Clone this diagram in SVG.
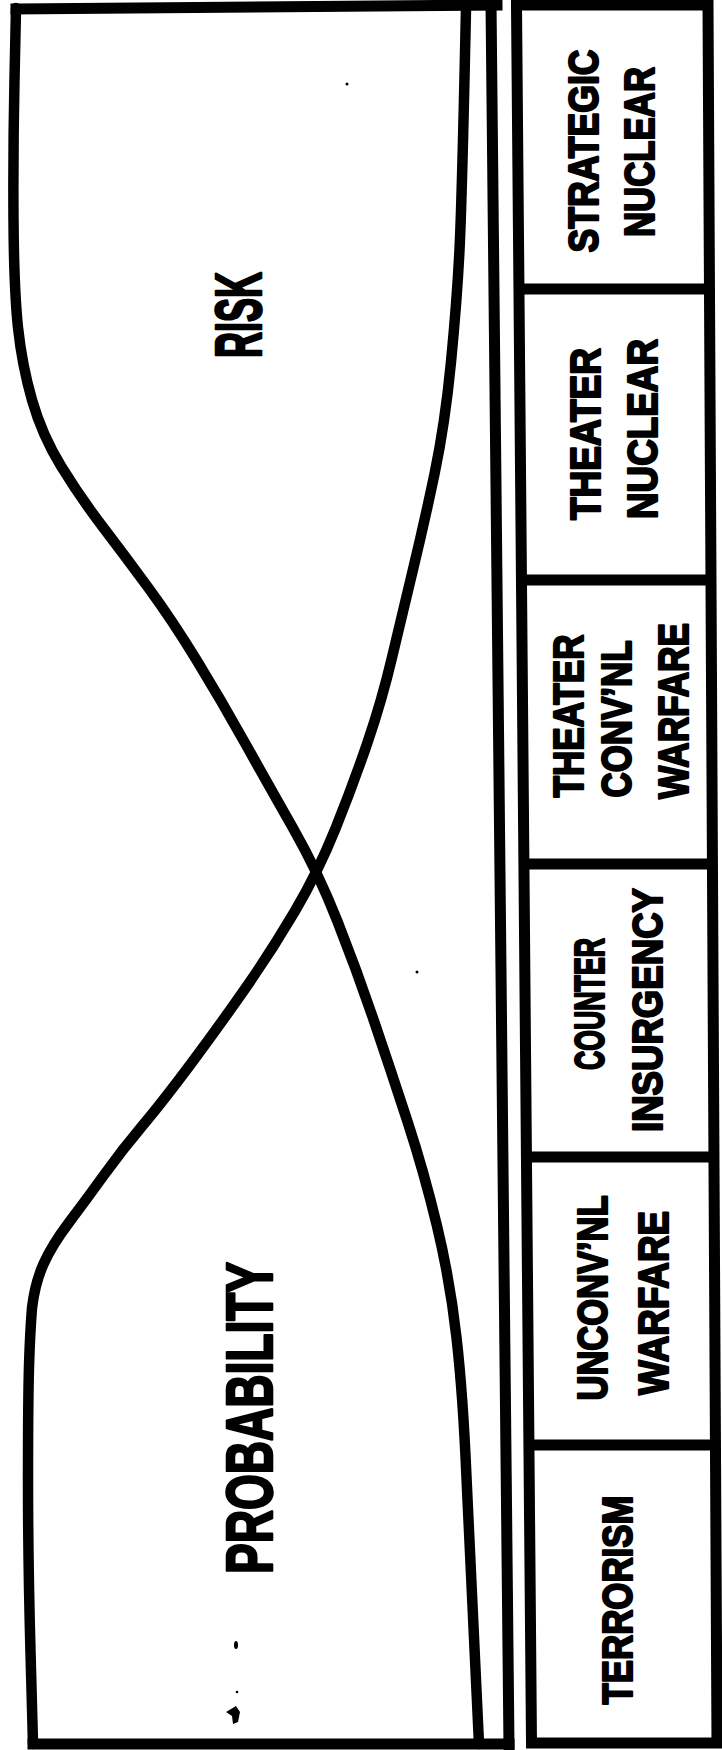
<svg xmlns="http://www.w3.org/2000/svg" width="722" height="1750" viewBox="0 0 722 1750">
<style>
.ln{fill:none;stroke:#000;stroke-width:11;stroke-linecap:square;stroke-linejoin:miter}
.dv{fill:none;stroke:#000;stroke-width:11}
.cv{fill:none;stroke:#000;stroke-width:10.5;stroke-linecap:round;stroke-linejoin:round}
.lbl{font-family:"Liberation Sans Narrow","Liberation Sans",Arial,sans-serif;font-weight:bold;fill:#000;stroke:#000;stroke-linejoin:round}
.big{font-size:64px;stroke-width:2.6}
.cat{font-size:43px;stroke-width:2.2}
.spk{fill:#000}
</style>
<rect x="0" y="0" width="722" height="1750" fill="#fff"/>

<g id="chart-frame">
  <path class="ln" d="M16,9 L497,5"/>
  <path class="ln" d="M491,2 L509,1747"/>
  <path class="ln" d="M33,1744 L509,1744"/>
</g>

<g id="curves">
  <path id="risk-curve" class="cv" d="M16,8 L14.5,79 Q13,150 13.5,220 Q14,290 18,327.5 Q22,365 32,400 Q42,435 61,466 Q80,497 102.5,526.5 Q125,556 148.5,588 Q172,620 196.5,660 Q221,700 245,743 Q269,786 293.5,829 Q318,872 337.5,921.5 Q357,971 374,1021 Q391,1071 407.5,1121.5 Q424,1172 437,1226 Q450,1280 456.5,1337.5 Q463,1395 466.5,1477.5 Q470,1560 479,1744"/>
  <path id="probability-curve" class="cv" d="M33,1744 L30.5,1652 Q28,1560 28,1480 Q28,1400 29,1366.5 Q30,1333 32,1308 Q35,1283 43.5,1264 Q52,1245 69,1222.5 Q86,1200 104,1175 Q122,1150 143,1125 Q164,1100 193,1061 Q222,1022 247,986 Q272,950 295,911 Q318,872 335.5,828.5 Q353,785 367.5,742.5 Q382,700 392,657.5 Q402,615 413,569.5 Q424,524 434.5,474 Q445,424 451,362 Q457,300 459.5,250 Q462,200 466,8"/>
</g>

<g id="label-risk">
  <text class="lbl big" transform="translate(261,315) rotate(-90)" x="-43" y="0" textLength="86" lengthAdjust="spacingAndGlyphs">RISK</text>
</g>
<g id="label-probability">
  <text class="lbl big" transform="translate(272,1418) rotate(-90)" x="-156" y="0" textLength="312" lengthAdjust="spacingAndGlyphs">PROBABILITY</text>
</g>

<g id="specks">
  <circle class="spk" cx="347" cy="84" r="1.5"/>
  <circle class="spk" cx="417" cy="972" r="1.5"/>
  <ellipse class="spk" cx="236" cy="1645" rx="2" ry="4"/>
  <circle class="spk" cx="237" cy="1692" r="1.3"/>
  <path class="spk" d="M226,1712 L236,1706 L240,1712 L238,1722 L233,1724 L232,1716 Z"/>
</g>

<g id="category-panel">
  <path class="ln" d="M516.5,5 L708,5 L717,1743 L531.5,1743 Z"/>
  <line class="dv" x1="519" y1="289" x2="709.5" y2="289"/>
  <line class="dv" x1="521.5" y1="580" x2="711" y2="580"/>
  <line class="dv" x1="523.9" y1="864" x2="712.4" y2="864"/>
  <line class="dv" x1="526.4" y1="1157" x2="714" y2="1157"/>
  <line class="dv" x1="528.9" y1="1445" x2="715.5" y2="1445"/>
</g>

<g id="cat-strategic-nuclear">
  <text class="lbl cat" transform="translate(598,151) rotate(-90)" x="-101.5" textLength="203" lengthAdjust="spacingAndGlyphs">STRATEGIC</text>
  <text class="lbl cat" transform="translate(654,152) rotate(-90)" x="-85" textLength="170" lengthAdjust="spacingAndGlyphs">NUCLEAR</text>
</g>
<g id="cat-theater-nuclear">
  <text class="lbl cat" transform="translate(600,434) rotate(-90)" x="-86" textLength="172" lengthAdjust="spacingAndGlyphs">THEATER</text>
  <text class="lbl cat" transform="translate(657,429) rotate(-90)" x="-90" textLength="180" lengthAdjust="spacingAndGlyphs">NUCLEAR</text>
</g>
<g id="cat-theater-convnl-warfare">
  <text class="lbl cat" transform="translate(583,716) rotate(-90)" x="-81.5" textLength="163" lengthAdjust="spacingAndGlyphs">THEATER</text>
  <text class="lbl cat" transform="translate(631,719) rotate(-90)" x="-78.5" textLength="157" lengthAdjust="spacingAndGlyphs">CONV’NL</text>
  <text class="lbl cat" transform="translate(688,711) rotate(-90)" x="-88" textLength="176" lengthAdjust="spacingAndGlyphs">WARFARE</text>
</g>
<g id="cat-counter-insurgency">
  <text class="lbl cat" transform="translate(604,1004) rotate(-90)" x="-66" textLength="132" lengthAdjust="spacingAndGlyphs">COUNTER</text>
  <text class="lbl cat" transform="translate(662,1010) rotate(-90)" x="-122" textLength="244" lengthAdjust="spacingAndGlyphs">INSURGENCY</text>
</g>
<g id="cat-unconvnl-warfare">
  <text class="lbl cat" transform="translate(607,1298) rotate(-90)" x="-102.5" textLength="205" lengthAdjust="spacingAndGlyphs">UNCONV’NL</text>
  <text class="lbl cat" transform="translate(668,1303) rotate(-90)" x="-92" textLength="184" lengthAdjust="spacingAndGlyphs">WARFARE</text>
</g>
<g id="cat-terrorism">
  <text class="lbl cat" transform="translate(632,1600) rotate(-90)" x="-104.5" textLength="209" lengthAdjust="spacingAndGlyphs">TERRORISM</text>
</g>
</svg>
